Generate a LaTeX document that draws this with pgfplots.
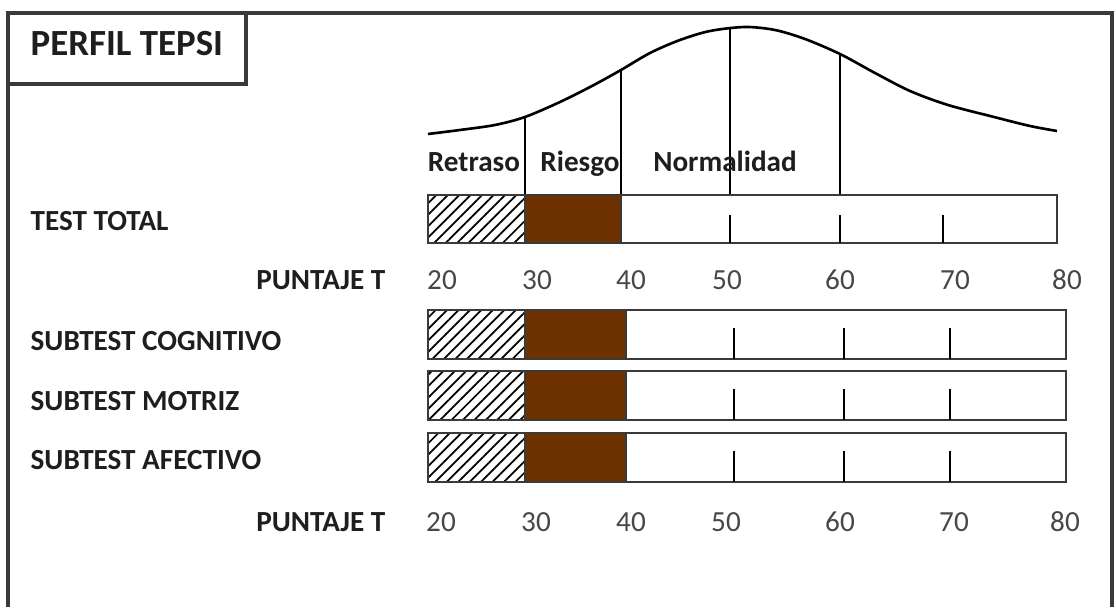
\documentclass[border=0pt]{standalone}
\usepackage{pgfplots}
\pgfplotsset{compat=1.18}
\usepackage{fontspec}
\setmainfont{Carlito}
\usetikzlibrary{patterns.meta}
\definecolor{frame}{HTML}{3A3A3A}
\definecolor{riesgo}{HTML}{6E3200}
\definecolor{txt}{HTML}{1E1E1E}
\definecolor{num}{HTML}{474747}
\pgfplotsset{
  hatch/.style={draw=none,pattern={Lines[angle=45,distance=2.3pt,line width=0.5pt]}},
  box/.style={frame,line width=0.8pt},
  tick/.style={black,line width=0.7pt},
}

\begin{document}
\begin{tikzpicture}[every node/.style={inner sep=0pt}]
\begin{axis}[scale only axis,width=11.16cm,height=6.07cm,
  xmin=0,xmax=1116,ymin=0,ymax=607,y dir=reverse,hide axis,clip=false]
  \path (rel axis cs:0,0) (rel axis cs:1,1);
  % outer frame and title box
  \addplot[frame,line width=0.9pt] coordinates {(8,607)(8,13)(1112,13)(1112,607)};
  \addplot[frame,line width=0.9pt] coordinates {(8,84)(246,84)(246,13)};
  \node[anchor=mid west,font=\fontsize{10.5}{12}\selectfont\bfseries,txt] at (axis cs:30,47) {PERFIL TEPSI};

  % bell curve
  \addplot[black,line width=0.75pt,smooth] coordinates {
    (428,134)(460,130)(495,125)(525,117)(560,102)(592,86)(621,70)(650,53)
    (680,40)(710,31)(745,27)(775,30)(805,39)(840,54)(875,73)(910,91)
    (948,105)(994,117)(1030,126)(1057,131)};
  % dividing lines
  \addplot[tick] coordinates {(525,117)(525,195)};
  \addplot[tick] coordinates {(621,70)(621,195)};
  \addplot[tick] coordinates {(730,28)(730,195)};
  \addplot[tick] coordinates {(840,54)(840,195)};

  \begin{scope}[font=\fontsize{8.3}{10}\selectfont\bfseries,txt]
    \node[anchor=mid] at (axis cs:474,163) {Retraso};
    \node[anchor=mid] at (axis cs:580,163) {Riesgo};
    \node[anchor=mid] at (axis cs:725,163) {Normalidad};
    \node[anchor=mid west] at (axis cs:30,222) {TEST TOTAL};
    \node[anchor=mid east] at (axis cs:386,281) {PUNTAJE T};
    \node[anchor=mid west] at (axis cs:30,342) {SUBTEST COGNITIVO};
    \node[anchor=mid west] at (axis cs:30,402) {SUBTEST MOTRIZ};
    \node[anchor=mid west] at (axis cs:30,461) {SUBTEST AFECTIVO};
    \node[anchor=mid east] at (axis cs:386,523) {PUNTAJE T};
  \end{scope}
  \begin{scope}[font=\fontsize{8.3}{10}\selectfont,num]
    \node[anchor=mid] at (axis cs:442,281) {20};
    \node[anchor=mid] at (axis cs:537,281) {30};
    \node[anchor=mid] at (axis cs:631,281) {40};
    \node[anchor=mid] at (axis cs:727,281) {50};
    \node[anchor=mid] at (axis cs:840,281) {60};
    \node[anchor=mid] at (axis cs:955,281) {70};
    \node[anchor=mid] at (axis cs:1067,281) {80};
    \node[anchor=mid] at (axis cs:441,523) {20};
    \node[anchor=mid] at (axis cs:536,523) {30};
    \node[anchor=mid] at (axis cs:631,523) {40};
    \node[anchor=mid] at (axis cs:726,523) {50};
    \node[anchor=mid] at (axis cs:840,523) {60};
    \node[anchor=mid] at (axis cs:954,523) {70};
    \node[anchor=mid] at (axis cs:1065,523) {80};
  \end{scope}

  % TEST TOTAL bar
  \addplot[hatch] coordinates {(428,195)(525,195)(525,243)(428,243)} -- cycle;
  \addplot[draw=none,fill=riesgo] coordinates {(525,195)(621,195)(621,243)(525,243)} -- cycle;
  \addplot[box] coordinates {(428,195)(1057,195)(1057,243)(428,243)} -- cycle;
  \addplot[box] coordinates {(525,195)(525,243)};
  \addplot[box] coordinates {(621,195)(621,243)};
  \addplot[tick] coordinates {(730,215)(730,243)};
  \addplot[tick] coordinates {(840,215)(840,243)};
  \addplot[tick] coordinates {(943,215)(943,243)};

  % SUBTEST COGNITIVO
  \addplot[hatch] coordinates {(428,310)(525,310)(525,359)(428,359)} -- cycle;
  \addplot[draw=none,fill=riesgo] coordinates {(525,310)(626,310)(626,359)(525,359)} -- cycle;
  \addplot[box] coordinates {(428,310)(1066,310)(1066,359)(428,359)} -- cycle;
  \addplot[box] coordinates {(525,310)(525,359)};
  \addplot[box] coordinates {(626,310)(626,359)};
  \addplot[tick] coordinates {(734,328)(734,359)};
  \addplot[tick] coordinates {(844,328)(844,359)};
  \addplot[tick] coordinates {(950,328)(950,359)};

  % SUBTEST MOTRIZ
  \addplot[hatch] coordinates {(428,371)(525,371)(525,420)(428,420)} -- cycle;
  \addplot[draw=none,fill=riesgo] coordinates {(525,371)(626,371)(626,420)(525,420)} -- cycle;
  \addplot[box] coordinates {(428,371)(1066,371)(1066,420)(428,420)} -- cycle;
  \addplot[box] coordinates {(525,371)(525,420)};
  \addplot[box] coordinates {(626,371)(626,420)};
  \addplot[tick] coordinates {(734,389)(734,420)};
  \addplot[tick] coordinates {(844,389)(844,420)};
  \addplot[tick] coordinates {(950,389)(950,420)};

  % SUBTEST AFECTIVO
  \addplot[hatch] coordinates {(428,433)(525,433)(525,482)(428,482)} -- cycle;
  \addplot[draw=none,fill=riesgo] coordinates {(525,433)(626,433)(626,482)(525,482)} -- cycle;
  \addplot[box] coordinates {(428,433)(1066,433)(1066,482)(428,482)} -- cycle;
  \addplot[box] coordinates {(525,433)(525,482)};
  \addplot[box] coordinates {(626,433)(626,482)};
  \addplot[tick] coordinates {(734,451)(734,482)};
  \addplot[tick] coordinates {(844,451)(844,482)};
  \addplot[tick] coordinates {(950,451)(950,482)};
\end{axis}
\end{tikzpicture}
\end{document}
